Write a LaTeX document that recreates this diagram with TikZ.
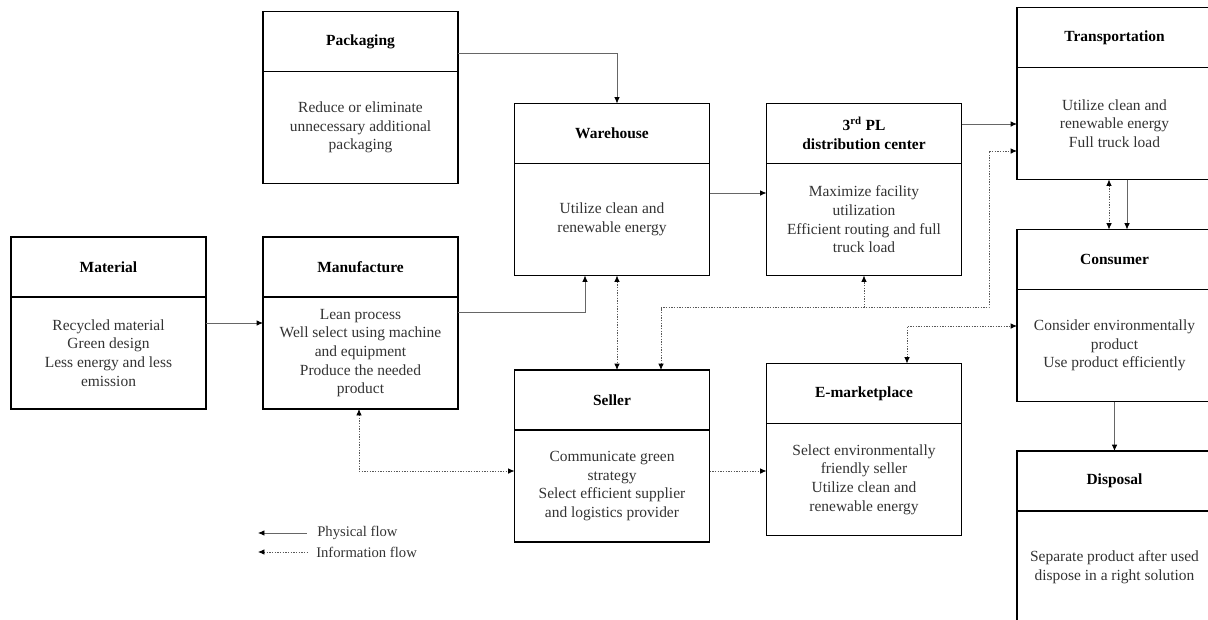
\documentclass[tikz,border=0pt]{standalone}
\usepackage{fontspec}
\setmainfont{Liberation Serif}
\usetikzlibrary{calc,arrows.meta}

% one stage of the chain: outer frame, heading cell and description
\newcommand{\stage}[5]{% name, x, y (centre), heading, description
  \node[frame] (#1) at (#2,#3) {};
  \node[head, anchor=north] (#1-h) at (#1.north) {#4};
  \node[desc, anchor=south] (#1-b) at (#1.south) {#5};
}

\begin{document}
\begin{tikzpicture}[
    x=0.75pt, y=-0.75pt,
    >={Latex[length=4.8pt,width=4.2pt,color=black]},
    frame/.style={draw=black, line width=0.8pt, minimum width=146.25pt,
      minimum height=129pt, inner sep=0pt, outer sep=0pt},
    head/.style={draw=black, line width=0.8pt, minimum width=146.25pt,
      minimum height=45pt, inner sep=0pt, outer sep=0pt, align=center,
      font=\bfseries\fontsize{11.6}{14}\selectfont},
    desc/.style={minimum width=146.25pt, minimum height=84pt, inner sep=0pt,
      outer sep=0pt, align=center, text=black!80,
      font=\fontsize{11.6}{14}\selectfont},
    phys/.style={draw=black!60, line width=0.6pt},
    info/.style={draw=black!65, line width=0.6pt, dash pattern=on 1pt off 1pt},
    legend/.style={inner sep=0pt, text=black!80, font=\fontsize{11}{13}\selectfont},
  ]
  \useasboundingbox (0,0) rectangle (1208,619);
  \clip (0,0) rectangle (1208,619);

  % stages
  \stage{mat}{108.5}{323}{Material}{Recycled material\\Green design\\Less energy and less\\emission}
  \stage{man}{360.5}{323}{Manufacture}{Lean process\\Well select using machine\\and equipment\\Produce the needed\\product}
  \stage{pak}{360.5}{97.5}{Packaging}{Reduce or eliminate\\unnecessary additional\\packaging}
  \stage{wh}{612}{189.5}{Warehouse}{Utilize clean and\\renewable energy}
  \stage{tpl}{864}{189.5}{3\textsuperscript{rd} PL\\distribution center}{Maximize facility\\utilization\\Efficient routing and full\\truck load}
  \stage{tr}{1114.5}{93.5}{Transportation}{Utilize clean and\\renewable energy\\Full truck load}
  \stage{co}{1114.5}{315.5}{Consumer}{Consider environmentally\\product\\Use product efficiently}
  \stage{di}{1114.5}{537}{Disposal}{Separate product after used\\dispose in a right solution}
  \stage{se}{612}{456}{Seller}{Communicate green\\strategy\\Select efficient supplier\\and logistics provider}
  \stage{em}{864}{449.5}{E-marketplace}{Select environmentally\\friendly seller\\Utilize clean and\\renewable energy}

  % physical flow
  \draw[phys,->] (mat.east) -- (man.west);
  \draw[phys,->] ($(man.east)+(0,-11)$) -| ($(wh.south)+(-27,0)$);
  \draw[phys,->] ($(pak.east)+(0,-44.5)$) -| ($(wh.north)+(5,0)$);
  \draw[phys,->] ($(wh.east)+(0,3.5)$) coordinate (p4) -- (p4 -| tpl.west);
  \draw[phys,->] ($(tpl.east)+(0,-65.5)$) coordinate (p5) -- (p5 -| tr.west);
  \draw[phys,->] ($(tr.south)+(12.5,0)$) coordinate (p6) -- (p6 |- co.north);
  \draw[phys,->] (co.south) -- (di.north);

  % information flow
  \draw[info,<->] ($(tr.south)+(-5.5,0)$) coordinate (i1) -- (i1 |- co.north);
  \draw[info,<->] ($(wh.south)+(5,0)$) coordinate (i2) -- (i2 |- se.north);
  \coordinate (jn) at ($(tpl.south)+(0,32)$);
  \draw[info,->] (jn) -- (tpl.south);
  \draw[info,<->] ($(se.north)+(49,0)$) |- (jn) -- ++(125,0) |- ($(tr.west)+(0,57.5)$);
  \draw[info,<->] ($(em.north)+(43,0)$) |- ($(co.west)+(0,10.5)$);
  \draw[info,<->] ($(man.south)+(-1.5,0)$) |- ($(se.west)+(0,15)$);
  \draw[info,->] ($(se.east)+(0,15)$) coordinate (i6) -- (i6 -| em.west);

  % legend
  \node[legend, anchor=west] (lg-p) at (317,533) {Physical flow};
  \node[legend, anchor=west] (lg-i) at (316,552) {Information flow};
  \draw[phys,<-] ($(lg-p.west)+(-59,0)$) -- ($(lg-p.west)+(-10,0)$);
  \draw[info,<-] ($(lg-i.west)+(-58,0)$) -- ($(lg-i.west)+(-9,0)$);
\end{tikzpicture}
\end{document}
